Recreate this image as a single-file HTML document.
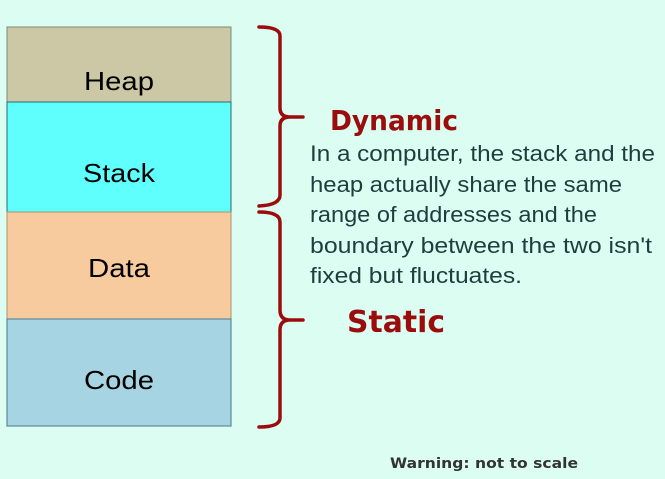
<!DOCTYPE html>
<html><head><meta charset="utf-8"><style>
html,body{margin:0;padding:0;background:#dcfdf1;}
svg{display:block}
</style></head><body>
<svg width="665" height="479" xmlns="http://www.w3.org/2000/svg">
<rect width="665" height="479" fill="#dcfdf1"/>
<rect x="7" y="27" width="224" height="75" fill="#ccc8a6" stroke="#7a8a78" stroke-width="1"/>
<rect x="7" y="102" width="224" height="110" fill="#5ffffd" stroke="#2a6a6a" stroke-width="1"/>
<rect x="7" y="212" width="224" height="107" fill="#f8cb9f" stroke="#b0906a" stroke-width="1"/>
<rect x="7" y="319" width="224" height="107" fill="#a7d4e2" stroke="#5a8a9a" stroke-width="1.2"/>
<g font-family="'Liberation Sans', sans-serif" font-size="26" fill="#000" text-anchor="middle">
<text x="119" y="90" textLength="70" lengthAdjust="spacingAndGlyphs">Heap</text>
<text x="119" y="182" textLength="72" lengthAdjust="spacingAndGlyphs">Stack</text>
<text x="119" y="277" textLength="62" lengthAdjust="spacingAndGlyphs">Data</text>
<text x="119" y="389" textLength="70" lengthAdjust="spacingAndGlyphs">Code</text>
</g>
<g fill="none" stroke="#9b0d0d" stroke-width="3.5" stroke-linecap="round" stroke-linejoin="round">
<path d="M259,27 Q280,27 280,36 L280,108 Q280,117 290,117 L303,117 M290,117 Q280,117 280,126 L280,195 Q280,205 259,206"/>
<path d="M259,212 Q280,212 280,222 L280,310 Q280,320 290,320 L303,320 M290,320 Q280,320 280,330 L280,418 Q280,427 259,427"/>
</g>
<g font-family="'Comic Sans MS','DejaVu Sans', cursive" fill="#9b0d0d" font-weight="bold">
<text x="330" y="130" font-size="28" textLength="128" lengthAdjust="spacingAndGlyphs">Dynamic</text>
<text x="347" y="332" font-size="30" textLength="98" lengthAdjust="spacingAndGlyphs">Static</text>
</g>
<g font-family="'Liberation Sans', sans-serif" font-size="22" fill="#1f3d3e">
<text x="310" y="161" textLength="345" lengthAdjust="spacingAndGlyphs">In a computer, the stack and the</text>
<text x="310" y="192" textLength="312" lengthAdjust="spacingAndGlyphs">heap actually share the same</text>
<text x="310" y="222" textLength="287" lengthAdjust="spacingAndGlyphs">range of addresses and the</text>
<text x="310" y="253" textLength="342" lengthAdjust="spacingAndGlyphs">boundary between the two isn't</text>
<text x="310" y="283" textLength="212" lengthAdjust="spacingAndGlyphs">fixed but fluctuates.</text>
</g>
<text x="390" y="468" font-family="'Comic Sans MS','DejaVu Sans', cursive" font-size="14" fill="#333" font-weight="bold" textLength="188" lengthAdjust="spacingAndGlyphs">Warning: not to scale</text>
</svg>
</body></html>
